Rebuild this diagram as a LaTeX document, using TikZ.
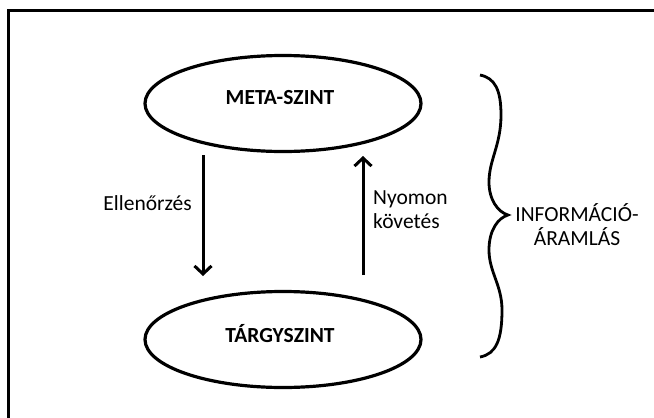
\documentclass[tikz,border=0pt]{standalone}
\usepackage{fontspec}
\setmainfont{Carlito}
\usetikzlibrary{shapes.geometric,arrows.meta}
\begin{document}
\begin{tikzpicture}[x=1pt,y=-1pt,
  level/.style={draw, ellipse, line width=3.2pt, minimum width=276pt, minimum height=96pt, inner sep=0pt},
  lvltext/.style={font=\fontsize{21.5}{25}\selectfont\bfseries, inner sep=0pt, anchor=base},
  side/.style={font=\fontsize{21.5}{24}\selectfont, inner sep=0pt},
  flow/.style={line width=3pt, -{Straight Barb[length=8pt,width=17pt]}},
  frame/.style={line width=2.5pt}]
\useasboundingbox (0,0) rectangle (654,418);
% frame (cut off at right and bottom)
\coordinate (fbl) at (8.5,420);
\coordinate (ftl) at (8.5,10.5);
\coordinate (ftr) at (656,10.5);
\draw[frame] (fbl) -- (ftl) -- (ftr);
% levels
\node[level] (meta) at (283,103.5) {};
\node[lvltext] (metatext) at (280,104.5) {META-SZINT};
\node[level] (targy) at (283,339.5) {};
\node[lvltext] (targytext) at (280,342.5) {TÁRGYSZINT};
% arrows
\coordinate (dstart) at (203,155);
\coordinate (dend) at (203,276);
\coordinate (ustart) at (363,275);
\coordinate (uend) at (363,156);
\draw[flow] (dstart) -- (dend);
\draw[flow] (ustart) -- (uend);
\node[side, anchor=base east] (ell) at (192,210) {Ellenőrzés};
\node[side, anchor=north west, align=left] (nyom) at (373,191) {Nyomon\\követés};
% brace
\coordinate (btop) at (480,75);
\coordinate (btip) at (508,215);
\coordinate (bbot) at (480,357);
\draw[line width=2.8pt]
  (btop) .. controls (495,78) and (501,90) .. (501,115)
  .. controls (501,145) and (489,160) .. (489,182)
  .. controls (489,200) and (498,212) .. (btip)
  .. controls (498,218) and (489,230) .. (489,250)
  .. controls (489,272) and (502,285) .. (502,310)
  .. controls (502,340) and (496,354) .. (bbot);
\node[side, anchor=north, align=center] (info) at (577,203) {INFORMÁCIÓ-\\ÁRAMLÁS};
\end{tikzpicture}
\end{document}
